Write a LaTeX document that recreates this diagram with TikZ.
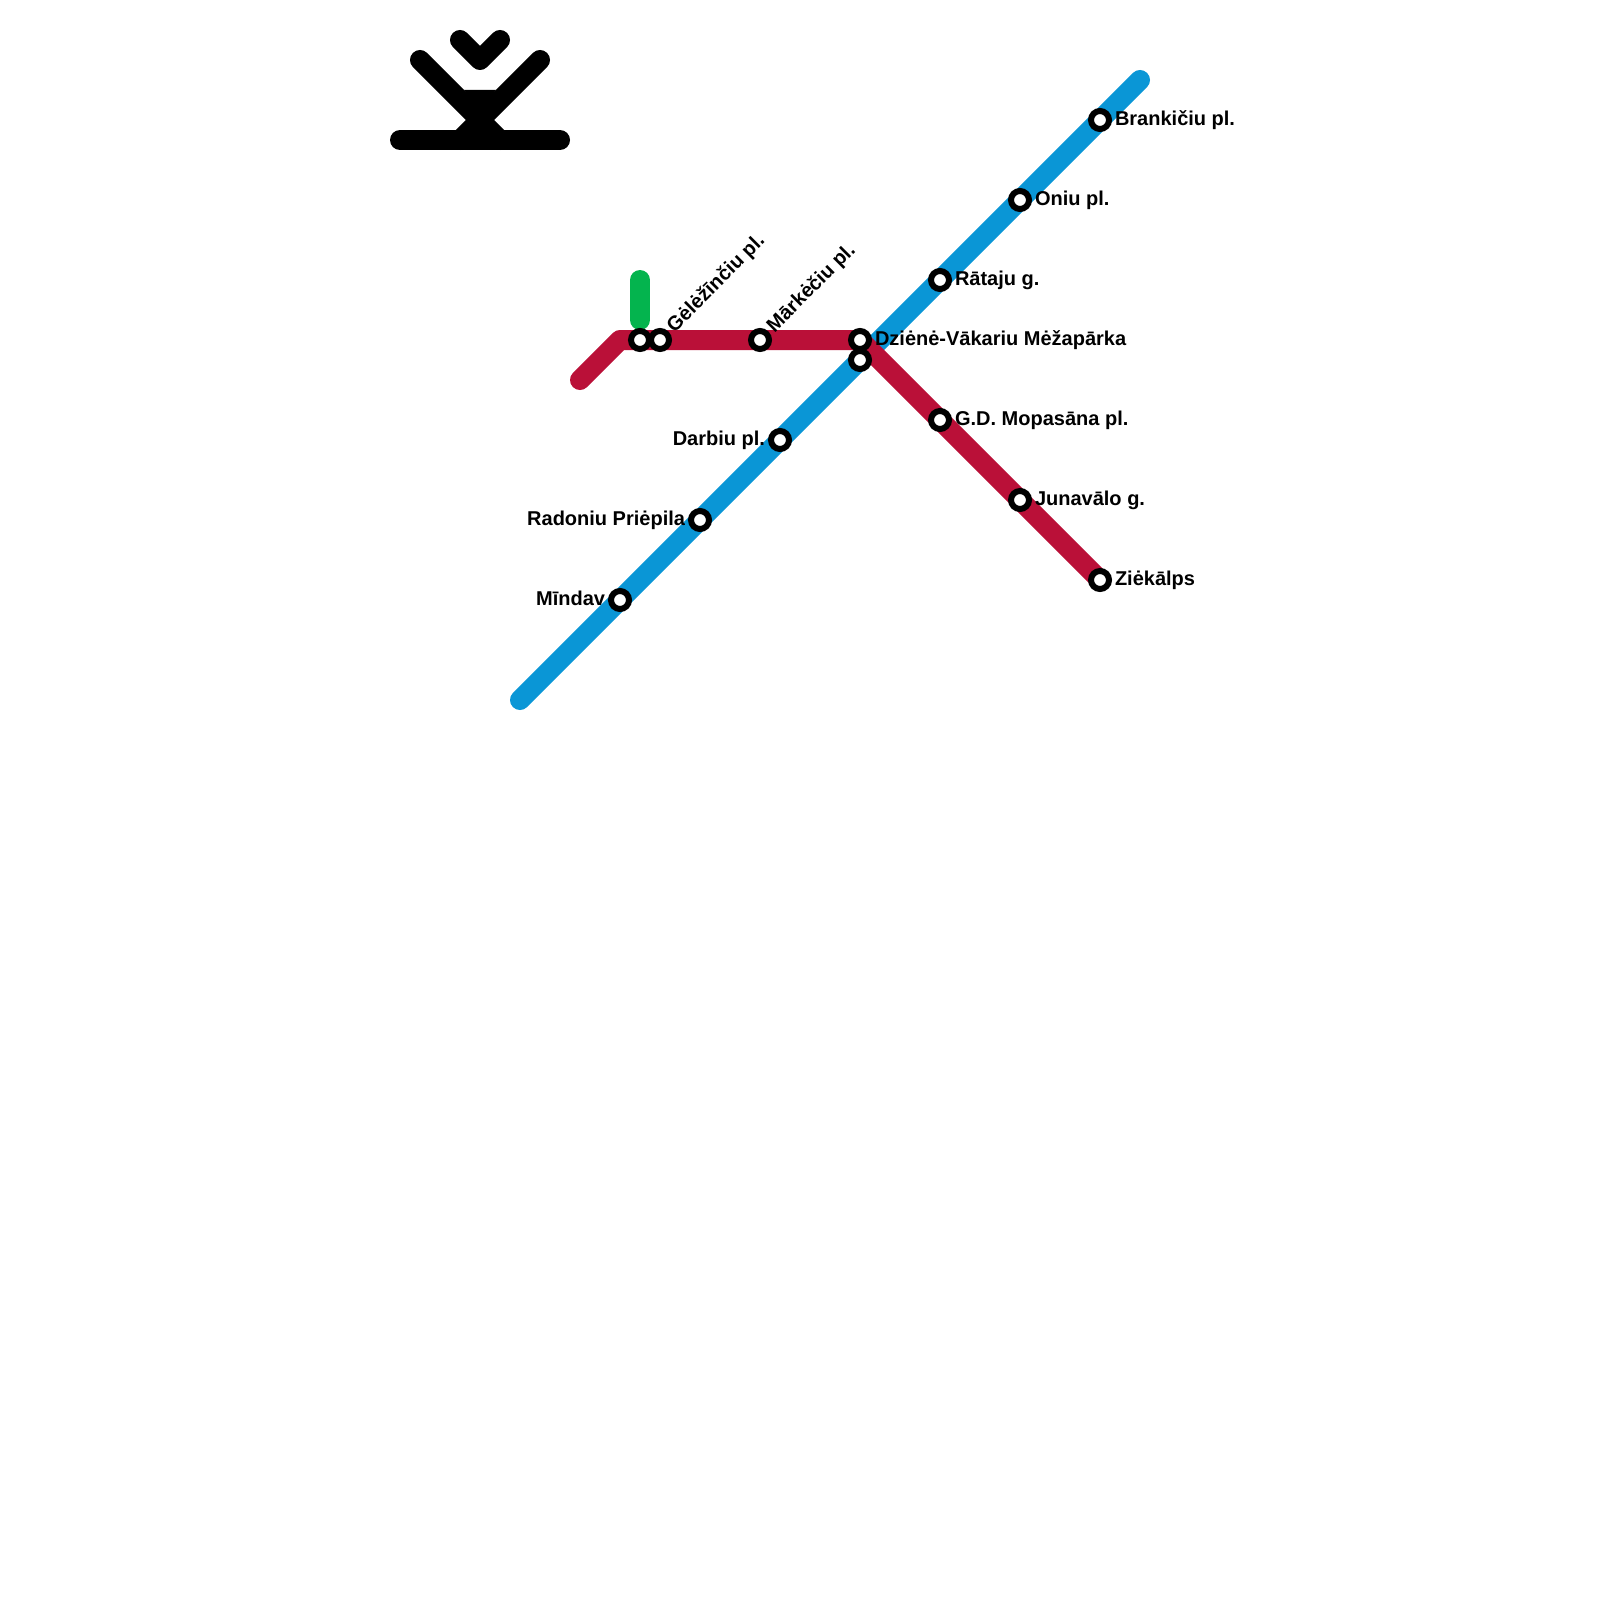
\documentclass[tikz,border=0pt]{standalone}
\usepackage{fontspec}
\setmainfont{Liberation Sans}
\definecolor{lineblue}{HTML}{0A96D6}
\definecolor{linered}{HTML}{BA1038}
\definecolor{linegreen}{HTML}{04B44E}
\pgfdeclarelayer{lines}
\pgfsetlayers{lines,main}
\tikzset{
  metro/.style={line width=20pt,line cap=round,line join=round},
  stn/.style={circle,draw=black,fill=white,line width=6pt,minimum size=18pt,inner sep=0pt,outer sep=0pt},
  lbl/.style={font=\bfseries\fontsize{20}{24}\selectfont,inner sep=0pt,outer sep=0pt,text=black},
  lblr/.style={lbl,anchor=base west},
  lbll/.style={lbl,anchor=base east},
  lbld/.style={lbl,anchor=base west,rotate=45}
}
\begin{document}
\begin{tikzpicture}[x=1pt,y=-1pt]
\useasboundingbox (0,0) rectangle (1600,1600);
% logo
\coordinate (la) at (420,60); \coordinate (lb) at (540,60);
\coordinate (lc) at (480,120); \coordinate (ld) at (460,140); \coordinate (le) at (500,140);
\coordinate (lf) at (400,140); \coordinate (lg) at (560,140);
\coordinate (lh) at (460,40); \coordinate (li) at (480,60); \coordinate (lj) at (500,40);
\draw[metro,black] (la) -- (lc) -- (ld);
\draw[metro,black] (lb) -- (lc) -- (le);
\draw[metro,black] (lf) -- (lg);
\draw[metro,black] (lh) -- (li) -- (lj);
\fill[black] (464,90) -- (496,90) -- (480,112) -- cycle;
% line ends and bends
\coordinate (bs) at (520,700); \coordinate (be) at (1140,80);
\coordinate (rs) at (580,380); \coordinate (rb) at (620,340);
\coordinate (gs) at (640,280); \coordinate (ge) at (640,320);
% stations
\node[stn] (s1) at (1100,120) {};
\node[stn] (s2) at (1020,200) {};
\node[stn] (s3) at (940,280) {};
\node[stn] (s4) at (860,340) {};
\node[stn] (s5) at (860,360) {};
\node[stn] (s6) at (780,440) {};
\node[stn] (s7) at (700,520) {};
\node[stn] (s8) at (620,600) {};
\node[stn] (s9) at (940,420) {};
\node[stn] (s10) at (1020,500) {};
\node[stn] (s11) at (1100,580) {};
\node[stn] (s12) at (640,340) {};
\node[stn] (s13) at (660,340) {};
\node[stn] (s14) at (760,340) {};
% lines beneath the stations
\begin{pgfonlayer}{lines}
\draw[metro,lineblue] (bs) -- (be);
\draw[metro,linered] (rs) -- (rb) -- (s4.center) -- (s11.center);
\draw[metro,linegreen] (gs) -- (ge);
\end{pgfonlayer}
% labels
\node[lblr] (t1) at (1115,125) {Brankičiu pl.};
\node[lblr] (t2) at (1035,205) {Oniu pl.};
\node[lblr] (t3) at (955,285) {Rātaju g.};
\node[lblr] (t4) at (875,345) {Dziėnė-Vākariu Mėžapārka};
\node[lbll] (t6) at (765,445) {Darbiu pl.};
\node[lbll] (t7) at (685,525) {Radoniu Priėpila};
\node[lbll] (t8) at (605,605) {Mīndav};
\node[lblr] (t9) at (955,425) {G.D. Mopasāna pl.};
\node[lblr] (t10) at (1035,505) {Junavālo g.};
\node[lblr] (t11) at (1115,585) {Ziėkālps};
\node[lbld] (t13) at (674.5,333) {Gėlėžīnčiu pl.};
\node[lbld] (t14) at (774.5,333) {Mārkėčiu pl.};
\end{tikzpicture}
\end{document}
